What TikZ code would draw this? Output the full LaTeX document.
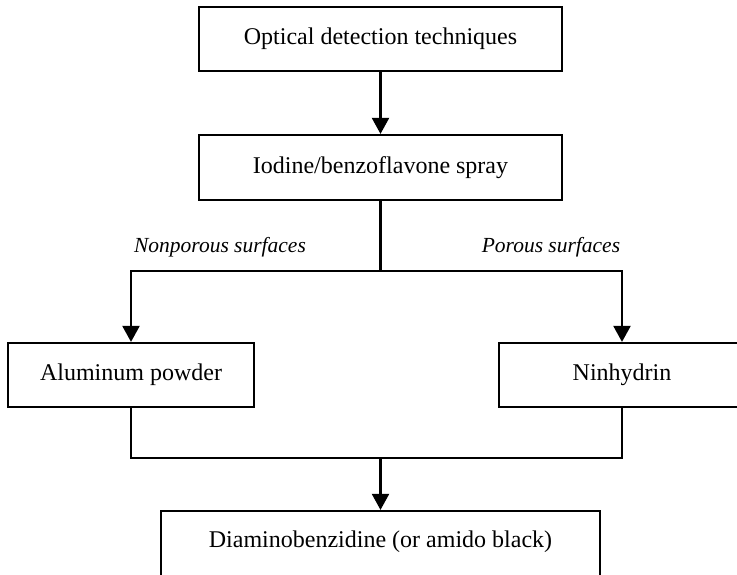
\documentclass[tikz,border=0pt]{standalone}
\usepackage{fontspec}
\setmainfont{Liberation Serif}
\usetikzlibrary{arrows.meta}
\tikzset{
  box/.style={draw, line width=2.2pt, inner sep=0pt, minimum height=64pt, font=\fontsize{24}{28}\selectfont},
  conn/.style={line width=2.2pt},
  arr/.style={conn, -{Triangle[width=17pt,length=16pt]}},
  lbl/.style={font=\fontsize{21.5}{26}\selectfont\itshape, inner sep=0pt}
}
\begin{document}
\begin{tikzpicture}[x=1pt,y=-1pt]
\clip (0,0) rectangle (737,574);
\fill[white] (0,0) rectangle (737,574);
\node[box, minimum width=363pt] (b1) at (380.5,39) {Optical detection techniques};
\node[box, minimum width=363pt, minimum height=65pt] (b2) at (380.5,167.5) {Iodine/benzoflavone spray};
\node[box, minimum width=246pt] (alu) at (131,375) {Aluminum powder};
\node[box, minimum width=246pt] (nin) at (622,375) {Ninhydrin};
\node[box, minimum width=439pt, minimum height=68pt] (bot) at (380.5,545) {};
\node[font=\fontsize{24}{28}\selectfont, inner sep=0pt] (bott) at (380.5,542) {Diaminobenzidine (or amido black)};
\node[lbl] (l1) at (220,247) {Nonporous surfaces};
\node[lbl] (l2) at (551,247) {Porous surfaces};
\coordinate (split) at (380.5,271);
\coordinate (join) at (380.5,458);
\draw[arr] (b1) -- (b2);
\draw[conn] (b2) -- (split);
\draw[arr] (split) -| (alu.north);
\draw[arr] (split) -| (nin.north);
\draw[conn] (alu.south) |- (join);
\draw[conn] (nin.south) |- (join);
\draw[arr] (join) -- (bot);
\end{tikzpicture}
\end{document}
